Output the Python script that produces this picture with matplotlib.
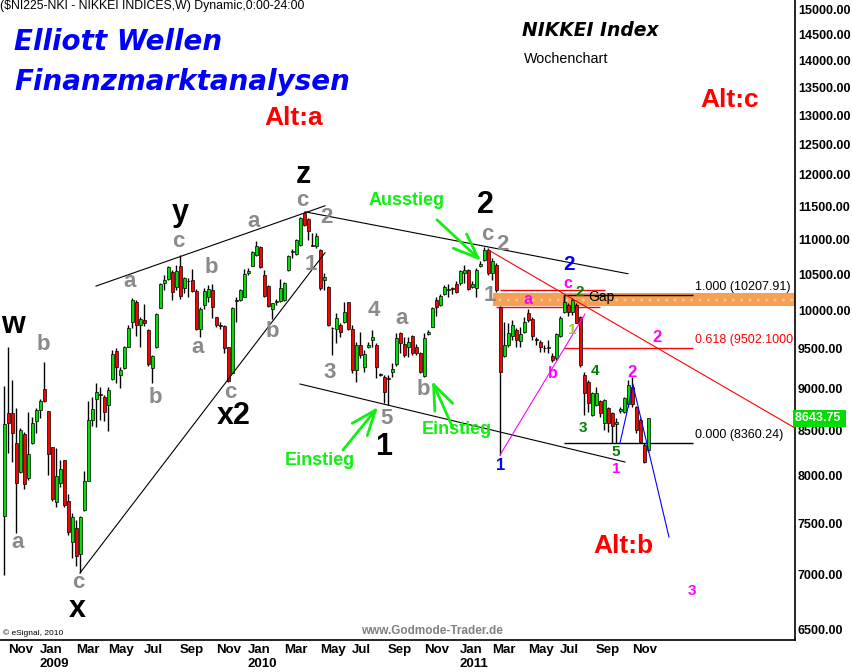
import matplotlib
matplotlib.use('Agg')
import matplotlib.pyplot as plt
from matplotlib.ticker import NullLocator, FixedLocator
import numpy as np
import pandas as pd

# weekly OHLC, NIKKEI 225 (first week ending 2008-10-31)
opens = [7580, 8707, 8707, 8362, 8040, 8464, 7978, 8358, 8613, 8742,
         8990, 8727, 8317, 7720, 7920, 8173, 7730, 7321, 7458, 7198,
         7641, 7949, 8625, 8869, 8929, 8893, 8801, 9112, 9461, 9168,
         9255, 9520, 9838, 10116, 9806, 9869, 9737, 9247, 9520, 10026,
         10372, 10430, 10530, 10322, 10618, 10300, 10395, 10410, 10267, 9746,
         10070, 10185, 10276, 9906, 9795, 9793, 9515, 9193, 10139, 10139,
         10185, 10520, 10618, 10777, 10890, 10490, 10336, 10012, 10110, 10130,
         10139, 10561, 10820, 10790, 10921, 11400, 11307, 10920, 10910, 10849,
         10410, 10322, 9760, 9746, 9800, 9845, 10107, 9746, 9226, 9543,
         9267, 9520, 9607, 9543, 9170, 9140, 9130, 9205, 9300, 9702,
         9550, 9520, 9663, 9520, 9437, 9157, 9690, 9783, 10139, 10070,
         10222, 10280, 10300, 10357, 10372, 10513, 10561, 10322, 10300, 10620,
         10704, 10849, 10513, 10633, 10040, 9400, 9543, 9655, 9737, 9600,
         9716, 9959, 9878, 9620, 9585, 9510, 9500, 9403, 9373, 9655,
         9980, 10070, 9980, 10070, 9905, 9165, 9083, 8683, 8801, 8853,
         8590, 8762, 8702, 8579, 8735, 8722, 8813, 9020, 8781, 8625,
         8340, 8284]
highs = [9030, 9520, 9103, 8762, 8530, 8490, 8722, 8664, 8762, 8869,
         9326, 8727, 8320, 8302, 8173, 8173, 7807, 7607, 7538, 7579,
         8053, 8853, 8901, 9062, 9020, 8921, 9020, 9478, 9499, 9267,
         9529, 9806, 10171, 10139, 9905, 10085, 9746, 9415, 9959, 10372,
         10490, 10617, 10561, 10633, 10777, 10458, 10448, 10571, 10290, 10048,
         10300, 10348, 10357, 9915, 9838, 9806, 9520, 10040, 10185, 10290,
         10571, 10580, 10827, 10977, 10900, 10561, 10348, 10103, 10149, 10434,
         10381, 10777, 10860, 11006, 11337, 11408, 11323, 11100, 11100, 10860,
         10515, 10331, 9783, 9960, 9830, 10116, 10116, 9806, 9585, 9716,
         9478, 9585, 9737, 9564, 9195, 9165, 9165, 9310, 9700, 9716,
         9650, 9650, 9676, 9560, 9457, 9693, 9737, 10040, 10176, 10222,
         10348, 10357, 10320, 10395, 10561, 10633, 10571, 10395, 10585, 10680,
         10890, 10874, 10730, 10658, 10057, 9846, 9825, 9869, 9760, 9780,
         9905, 10012, 9905, 9650, 9607, 9543, 9607, 9437, 9702, 9925,
         10208, 10094, 10162, 10094, 9925, 9205, 9103, 8961, 9020, 8861,
         8869, 8781, 8722, 8645, 8781, 8901, 9103, 9144, 8789, 8645,
         8360, 8645]
lows = [7000, 8250, 8155, 7411, 8030, 7856, 7956, 8351, 8480, 8645,
        8834, 8008, 7737, 7676, 7884, 7676, 7386, 7159, 7085, 7016,
        7634, 7949, 8556, 8548, 8625, 8613, 8502, 9103, 9062, 9002,
        9238, 9512, 9762, 9653, 9520, 9793, 9274, 9062, 9507, 10026,
        10276, 10420, 10139, 10276, 10149, 10238, 10185, 10252, 9737, 9645,
        10012, 10116, 9893, 9783, 9746, 9437, 9083, 9185, 9846, 10130,
        10176, 10480, 10608, 10762, 10580, 10185, 10040, 9880, 10070, 10116,
        10130, 10537, 10730, 10777, 10906, 11196, 10996, 10900, 10880, 10276,
        10276, 9793, 9415, 9563, 9650, 9825, 9737, 9185, 9083, 9382,
        9205, 9499, 9520, 9124, 9150, 8820, 8800, 9145, 9280, 9437,
        9392, 9392, 9415, 9420, 9185, 9145, 9676, 9775, 9919, 10057,
        10208, 10185, 10222, 10230, 10348, 10372, 10276, 10300, 10185, 10600,
        10680, 10490, 10420, 10252, 8228, 9392, 9520, 9607, 9520, 9520,
        9693, 9846, 9607, 9543, 9457, 9457, 9437, 9330, 9351, 9646,
        9959, 9919, 9932, 9825, 9267, 8683, 8722, 8672, 8789, 8664,
        8510, 8490, 8360, 8360, 8702, 8702, 8781, 8781, 8471, 8360,
        8135, 8266]
closes = [8575, 8590, 8474, 7920, 8510, 7916, 8240, 8590, 8738, 8853,
          8846, 8236, 7751, 7995, 8071, 7689, 7420, 7566, 7182, 7569,
          7942, 8621, 8750, 8960, 8917, 8718, 8981, 9428, 9267, 9226,
          9520, 9762, 10135, 9806, 9882, 9825, 9296, 9403, 9945, 10363,
          10410, 10597, 10252, 10547, 10195, 10438, 10400, 10267, 9746, 10017,
          10262, 10286, 10040, 9797, 9790, 9510, 9087, 10026, 10130, 10276,
          10504, 10546, 10812, 10902, 10597, 10195, 10060, 10094, 10120, 10300,
          10372, 10762, 10830, 10996, 11321, 11222, 11120, 10910, 11057, 10300,
          10458, 9806, 9770, 9893, 9716, 9980, 9746, 9226, 9543, 9415,
          9425, 9537, 9650, 9267, 9165, 8960, 9120, 9235, 9630, 9564,
          9415, 9585, 9437, 9437, 9205, 9628, 9710, 10026, 10048, 10195,
          10322, 10290, 10290, 10252, 10537, 10561, 10290, 10357, 10561, 10640,
          10849, 10513, 10680, 10276, 9205, 9543, 9702, 9806, 9607, 9690,
          9846, 9869, 9663, 9607, 9520, 9499, 9514, 9351, 9680, 9893,
          10116, 9980, 10139, 9833, 9290, 8940, 8821, 8941, 8949, 8706,
          8861, 8590, 8556, 8605, 8749, 8881, 9042, 8813, 8510, 8377,
          8155, 8643.75]

y_ticks = np.arange(6500, 15001, 500)
fib_high = 10207.91
fib_low = 8360.24
fib_ratios = [1.000, 0.618, 0.000]
fib_texts = ['1.000 (10207.91)', '0.618 (9502.1000', '0.000 (8360.24)']
gap_band = (10060, 10240)
gap_edges = [10276, 10048]

weeks = pd.date_range('2008-10-31', periods=len(closes), freq='W-FRI')
x = np.arange(len(closes))
o = np.array(opens, dtype=float)
c = np.array(closes, dtype=float)

fig = plt.figure(figsize=(8.52, 6.72), dpi=100)
ax = fig.add_axes([0, 32 / 672, 795 / 852, 640 / 672])
ax.set_yscale('log')
ax.set_xlim(-1, 197.75)
ax.set_ylim(6413, 15189)

# gap zone and fib lines
ax.fill_between([122.25, 197.75], gap_band[0], gap_band[1], facecolor='#F5A055',
                edgecolor='#FAC591', hatch='..', lw=0, zorder=1)
ax.hlines(gap_edges[0], 124, 150.25, color='red', lw=1, zorder=2)
ax.hlines(gap_edges[1], 123, 149, color='red', lw=1, zorder=2)
for r, t in zip(fib_ratios, fib_texts):
    lvl = fib_low + r * (fib_high - fib_low)
    col = 'red' if r == 0.618 else 'black'
    ax.hlines(lvl, 140, 172.25, color=col, lw=1, zorder=2)
    ax.text(172.75, lvl * 1.003, t, color=col, fontsize=9, family='Liberation Sans',
            ha='left', va='bottom', zorder=6)
ax.vlines(140, 10110, fib_high, color='black', lw=1, zorder=2)

# candles
ax.vlines(x, lows, highs, color='black', lw=1, zorder=3)
body = np.maximum(np.abs(c - o), 8)
cols = np.where(c >= o, '#00E000', '#FF0000')
ax.bar(x, body, bottom=np.minimum(o, c), width=0.75, color=cols,
       edgecolor='black', linewidth=0.5, zorder=4)

# trend lines (week index, price)
trend_lines = [
    ((23, 10331), (80.25, 11511), 'black'),
    ((19, 7019), (80.25, 10805), 'black'),
    ((75.25, 11418), (156, 10504), 'black'),
    ((74, 9054), (155.25, 8151), 'black'),
    ((121, 10849), (197.75, 8533), 'red'),
    ((124, 8228), (145.25, 9949), '#FF00FF'),
    ((154, 8362), (157.25, 9042), 'blue'),
    ((157.25, 9042), (166.25, 7367), 'blue'),
]
for (x0, y0), (x1, y1), col in trend_lines:
    ax.plot([x0, x1], [y0, y1], color=col, lw=0.8, zorder=5)

# green arrows
arrows = [((108.25, 11296), (119.25, 10689)),
          ((112.25, 8533), (107, 9091)),
          ((84.75, 8284), (93.5, 8777))]
for tail, tip in arrows:
    ax.annotate('', xy=tip, xytext=tail, zorder=6,
                arrowprops=dict(arrowstyle='->, head_length=0.9, head_width=0.35',
                                color='#11EE11', lw=2, mutation_scale=20,
                                shrinkA=0, shrinkB=0))

def label(s, i, p, color, size, ha='center'):
    ax.text(i, p, s, color=color, fontsize=size, fontweight='bold',
            family='Liberation Sans', ha=ha, va='center', zorder=7)

gray = '#8A8A8A'
gray_labels = [('b', 9.75, 9543), ('a', 3.5, 7318), ('c', 18.5, 6925), ('a', 31.5, 10392),
               ('b', 37.75, 8885), ('c', 43.5, 10967), ('b', 51.75, 10586), ('a', 48.5, 9516),
               ('a', 62.5, 11265), ('c', 56.5, 8957), ('b', 67, 9724), ('c', 74.5, 11590),
               ('2', 80.5, 11325), ('1', 76.75, 10629), ('4', 92.5, 9990), ('3', 81.5, 9201),
               ('a', 99.5, 9896), ('5', 95.75, 8648), ('b', 104.75, 8993), ('c', 120.75, 11070),
               ('2', 124.5, 10923), ('1', 121.5, 10207)]
for s, i, p in gray_labels:
    label(s, i, p, gray, 16)

big_labels = [('w', 2.25, 9803), ('x', 18.25, 6685), ('y', 44, 11403), ('x2', 57.5, 8672),
              ('z', 74.75, 12000), ('1', 95, 8317), ('2', 120.25, 11520)]
for s, i, p in big_labels:
    label(s, i, p, 'black', 22)

color_labels = [('a', 131, 10152, '#FF00FF', 11.5), ('c', 141, 10360, '#FF00FF', 11.5),
                ('b', 137.25, 9189, '#FF00FF', 11.5), ('2', 163.25, 9646, '#FF00FF', 12),
                ('2', 157, 9201, '#FF00FF', 12), ('1', 153, 8075, '#FF00FF', 11),
                ('3', 172, 6851, '#FF00FF', 11),
                ('2', 141.25, 10640, '#0000FF', 15), ('1', 124.25, 8108, '#0000FF', 12),
                ('2', 144, 10248, '#008000', 11), ('4', 147.75, 9214, '#008000', 11),
                ('3', 144.75, 8533, '#008000', 11), ('5', 153, 8261, '#008000', 11),
                ('1', 142, 9737, '#9ACD32', 11)]
for s, i, p, col, size in color_labels:
    label(s, i, p, col, size)

for s, i, p in [('Alt:a', 72.5, 12960), ('Alt:c', 181.5, 13278), ('Alt:b', 154.75, 7279)]:
    label(s, i, p, 'red', 19)
for s, i, p in [('Ausstieg', 100.75, 11589), ('Einstieg', 113.25, 8521), ('Einstieg', 79, 8162)]:
    label(s, i, p, '#11EE11', 13)
ax.text(146, 10180, 'Gap', color='black', fontsize=10, family='Liberation Sans',
        ha='left', va='center', zorder=7)

# headings
ax.text(0.0176, 0.934, 'Elliott Wellen', transform=ax.transAxes, color='#0000FF',
        fontsize=20, fontweight='bold', fontstyle='oblique', family='DejaVu Sans', va='center')
ax.text(0.0176, 0.872, 'Finanzmarktanalysen', transform=ax.transAxes, color='#0000FF',
        fontsize=20, fontweight='bold', fontstyle='oblique', family='DejaVu Sans', va='center')
ax.text(0.6566, 0.9516, 'NIKKEI Index', transform=ax.transAxes, color='black',
        fontsize=13.5, fontweight='bold', fontstyle='oblique', family='DejaVu Sans', va='center')
ax.text(0.6591, 0.9078, 'Wochenchart', transform=ax.transAxes, color='black',
        fontsize=10.3, family='Liberation Sans', va='center')
ax.text(0.5434, 0.014, 'www.Godmode-Trader.de', transform=ax.transAxes, color='#808080',
        fontsize=8.5, fontweight='bold', family='Liberation Sans', ha='center', va='center')
ax.text(0.004, 0.011, '\u00a9 eSignal, 2010', transform=ax.transAxes, color='black',
        fontsize=6, family='Liberation Sans', va='center')
fig.text(0.0, 1 - 9 / 672, '($NI225-NKI - NIKKEI INDICES,W) Dynamic,0:00-24:00',
         color='black', fontsize=8.8, family='Liberation Sans', va='baseline')

# last price box
ax.text(1.0, closes[-1], '8643.75 ', transform=ax.get_yaxis_transform(), ha='left',
        va='center', color='white', fontsize=9, fontweight='bold', family='Liberation Sans',
        bbox=dict(facecolor='#00DD00', edgecolor='none', pad=1.5), zorder=8, clip_on=False)

# axes
for side in ['top', 'left']:
    ax.spines[side].set_visible(False)
for side in ['right', 'bottom']:
    ax.spines[side].set_linewidth(1.2)
ax.yaxis.tick_right()
ax.yaxis.set_major_locator(FixedLocator(y_ticks))
ax.yaxis.set_minor_locator(NullLocator())
ax.set_yticklabels([f'{v:.2f}' for v in y_ticks])
ax.tick_params(axis='y', length=0, pad=2, labelsize=9)

tick_idx = [i for i in range(1, len(weeks))
            if weeks[i].month != weeks[i - 1].month and weeks[i].month % 2 == 1]
tick_lbl = [weeks[i].strftime('%b') + (f'\n{weeks[i].year}' if weeks[i].month == 1 else '')
            for i in tick_idx]
ax.set_xticks(tick_idx)
ax.set_xticklabels(tick_lbl)
ax.tick_params(axis='x', length=0, pad=3, labelsize=9.5)
for lbl in ax.get_xticklabels() + ax.get_yticklabels():
    lbl.set_fontweight('bold')
    lbl.set_family('Liberation Sans')
for lbl in ax.get_xticklabels():
    lbl.set_ha('left')

fig.savefig('out.png', dpi=100)
